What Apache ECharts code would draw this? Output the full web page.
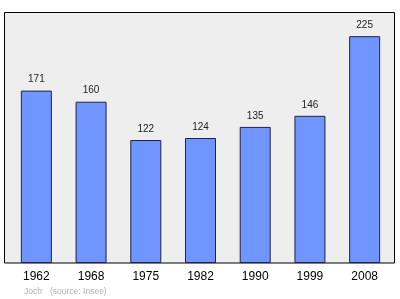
<!DOCTYPE html>
<html><head><meta charset="utf-8">
<script src="https://cdn.jsdelivr.net/npm/echarts@6/dist/echarts.min.js"></script>
<style>html,body{margin:0;padding:0;background:#fff}#c{width:400px;height:299px}</style>
</head><body><div id="c"></div>
<script>
const categories = ['1962','1968','1975','1982','1990','1999','2008'];
const population = [171,160,122,124,135,146,225];
const chart = echarts.init(document.getElementById('c'));
chart.setOption({
  animation:false,
  graphic:[
    {type:'rect',shape:{x:4.5,y:12.5,width:390,height:250.5},style:{fill:'#eeeeee',stroke:'#000',lineWidth:1},z:-10},
    {type:'text',left:24,top:287,style:{text:'Joch',fill:'#b0b0b0',font:'8.5px "Liberation Sans", Arial, sans-serif'}},
    {type:'text',left:50,top:287,style:{text:'(source: Insee)',fill:'#b0b0b0',font:'8.5px "Liberation Sans", Arial, sans-serif'}}
  ],
  grid:{left:9,right:8,top:13,bottom:36},
  xAxis:{type:'category',data:categories,axisLine:{show:false},axisTick:{show:false},
    axisLabel:{color:'#000',fontSize:12,fontFamily:'Liberation Sans',margin:8}},
  yAxis:{type:'value',min:0,max:248,show:false,splitLine:{show:false}},
  series:[{type:'bar',data:population,barWidth:31,
    itemStyle:{color:'#7095ff',borderColor:'#222244',borderWidth:1},
    label:{show:true,position:'top',distance:6,color:'#222',fontSize:10,fontFamily:'Liberation Sans'}}]
});
</script></body></html>
